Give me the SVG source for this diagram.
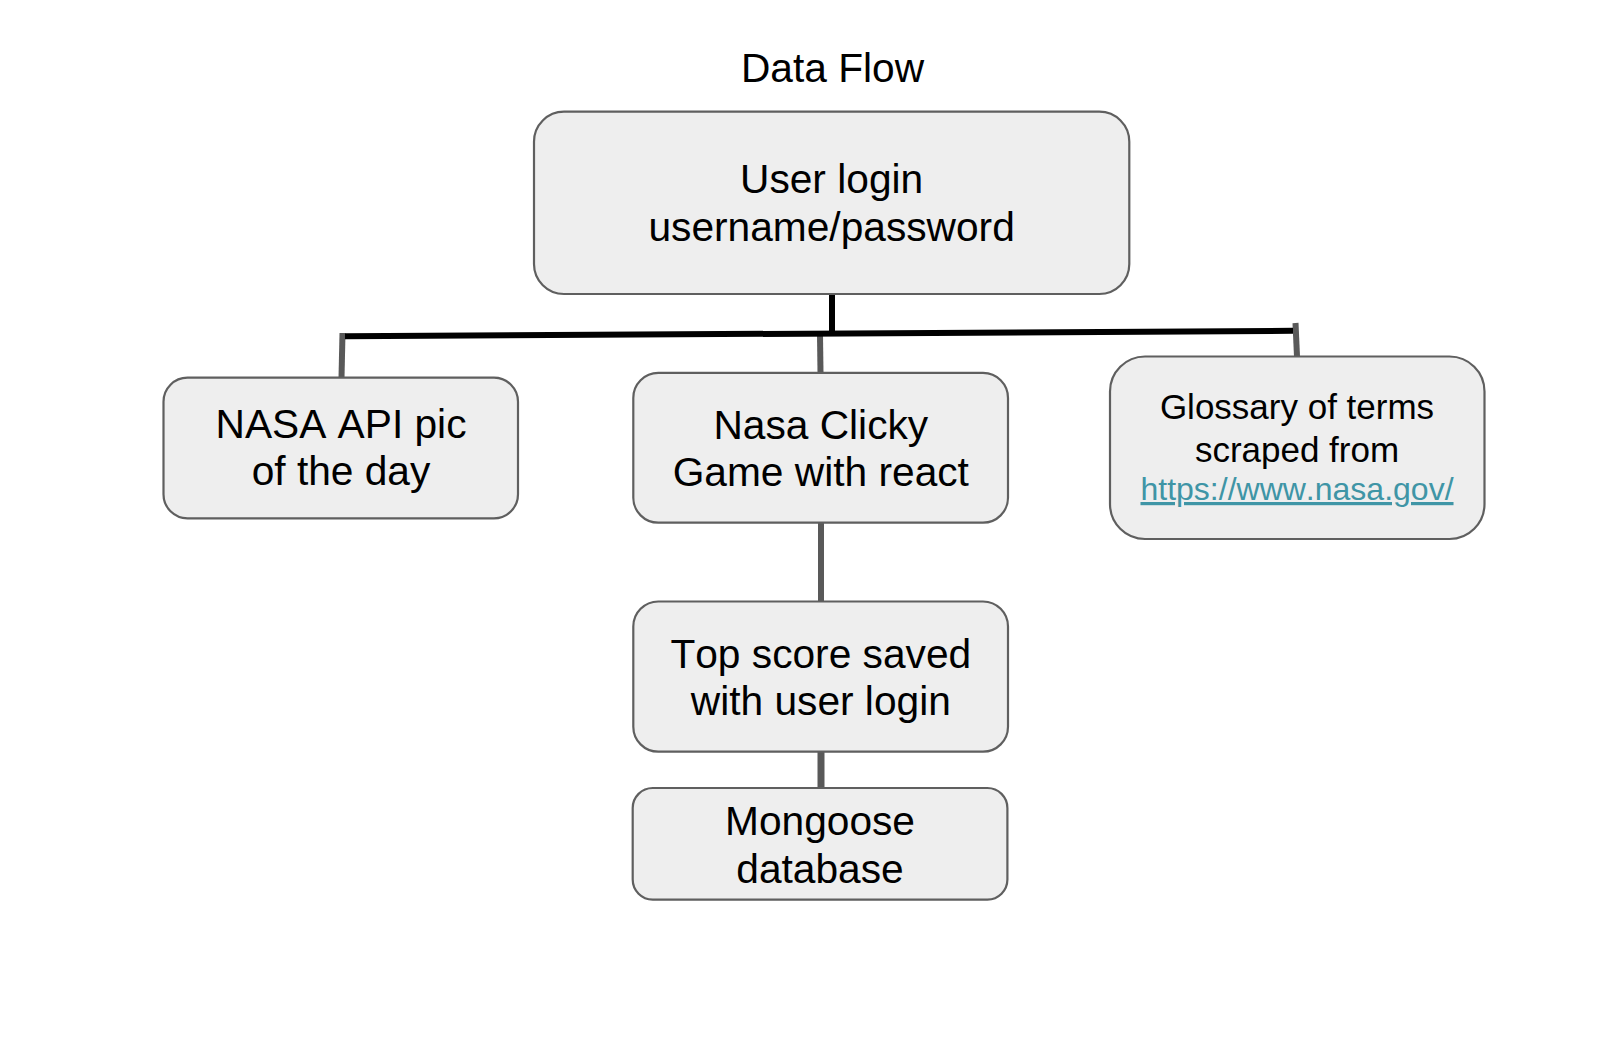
<svg xmlns="http://www.w3.org/2000/svg" width="1624" height="1040" viewBox="0 0 1624 1040">
<style>
text{font-kerning:none}
.box{fill:#eeeeee;stroke:#5f5f5f;stroke-width:2.2}
.t{font-family:"Liberation Sans",Arial,sans-serif;font-size:40.7px;fill:#000;text-anchor:middle}
.s{font-family:"Liberation Sans",Arial,sans-serif;font-size:35px;fill:#000;text-anchor:middle}
.link{font-family:"Liberation Sans",Arial,sans-serif;font-size:32px;fill:#3f95a6;text-anchor:middle;text-decoration:underline}
.bk{stroke:#000;stroke-width:6;fill:none}
.gr{stroke:#595959;stroke-width:6;fill:none}
</style>
<rect width="1624" height="1040" fill="#ffffff"/>
<text id="title" class="t" x="832.5" y="82.3">Data Flow</text>
<g id="connectors">
<line class="gr" x1="342.5" y1="333" x2="341.5" y2="377.7"/>
<line class="gr" x1="820" y1="335" x2="820.5" y2="372.9"/>
<line class="gr" x1="1295.5" y1="323" x2="1297" y2="356.5"/>
<line class="gr" x1="821" y1="522.7" x2="821" y2="601.5"/>
<line class="gr" x1="821" y1="751.7" x2="821" y2="788" style="stroke-width:7"/>
<line class="bk" x1="832" y1="294" x2="832" y2="334"/>
<line class="bk" x1="345" y1="336.3" x2="1293" y2="330.8"/>
</g>
<g id="user-login">
<rect class="box" x="534" y="111.7" width="595.3" height="182.3" rx="30"/>
<text class="t" x="831.6" y="193.3">User login</text>
<text class="t" x="831.6" y="240.7">username/password</text>
</g>
<g id="nasa-api">
<rect class="box" x="163.5" y="377.7" width="354.5" height="140.6" rx="24"/>
<text class="t" x="341" y="438">NASA API pic</text>
<text class="t" x="341" y="485">of the day</text>
</g>
<g id="clicky-game">
<rect class="box" x="633.3" y="372.9" width="374.7" height="149.8" rx="25"/>
<text class="t" x="820.8" y="439">Nasa Clicky</text>
<text class="t" x="820.8" y="486.3">Game with react</text>
</g>
<g id="glossary">
<rect class="box" x="1110" y="356.5" width="374.5" height="182.5" rx="35"/>
<text class="s" x="1297" y="419.3">Glossary of terms</text>
<text class="s" x="1297" y="461.7">scraped from</text>
<text class="link" x="1297" y="500">https://www.nasa.gov/</text>
</g>
<g id="top-score">
<rect class="box" x="633.3" y="601.5" width="374.7" height="150.2" rx="25"/>
<text class="t" x="820.8" y="668">Top score saved</text>
<text class="t" x="820.8" y="715.3">with user login</text>
</g>
<g id="mongoose">
<rect class="box" x="632.7" y="788" width="374.7" height="111.6" rx="20"/>
<text class="t" x="820" y="835.3">Mongoose</text>
<text class="t" x="820" y="882.5">database</text>
</g>
</svg>
